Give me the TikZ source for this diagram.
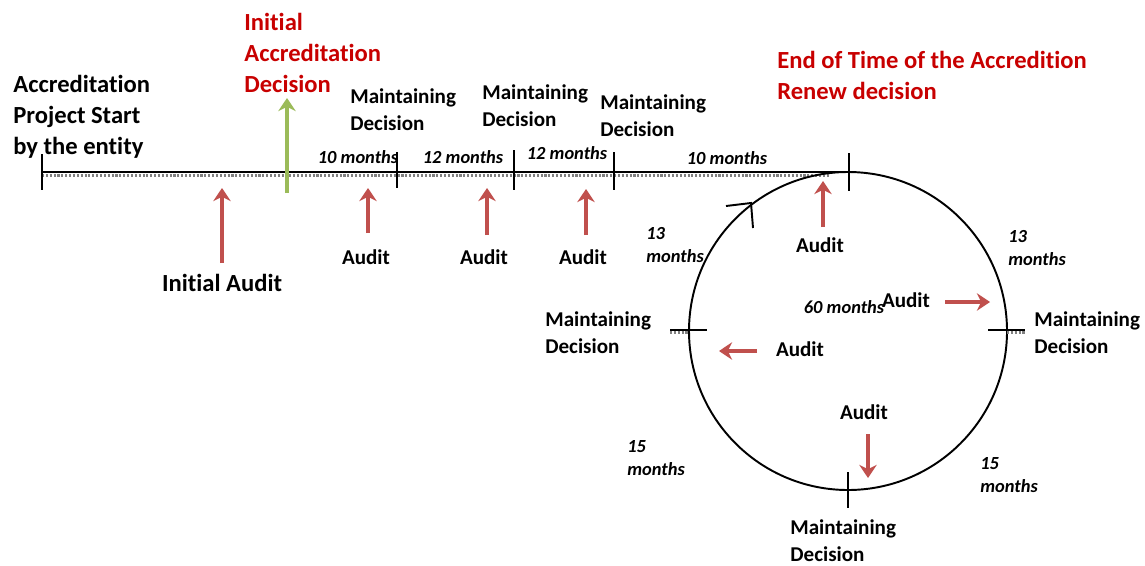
\documentclass[tikz,border=0pt]{standalone}
\usepackage{fontspec}
\setmainfont{Carlito}[Ligatures=NoCommon]
\usetikzlibrary{arrows.meta}
\definecolor{audred}{RGB}{192,80,77}
\definecolor{decgreen}{RGB}{155,187,89}
\definecolor{titlered}{RGB}{200,0,0}

\begin{document}
\begin{tikzpicture}[x=0.02cm,y=-0.02cm,%
        lbl/.style={font=\bfseries\fontsize{12}{15.4}\selectfont,%
                        align=left, inner sep=0pt, anchor=north west},
        tall/.style={lbl, font=\bfseries\fontsize{14}{17.6}\selectfont},
        aud/.style={font=\bfseries\fontsize{12}{15}\selectfont, inner sep=0pt},
        mon/.style={font=\bfseries\itshape\fontsize{10.5}{13}\selectfont,%
                        align=left, inner sep=0pt},
        up/.style={draw=audred, line width=2pt,%
                        -{Stealth[length=7.5pt,width=10pt,inset=2.5pt]}},
        tk/.style={line width=1.3pt},
        ring/.style={line width=1.1pt}]
\useasboundingbox (0,0) rectangle (1145,565);

% timeline
\coordinate (t0) at (42,172);
\coordinate (t1) at (397,172);
\coordinate (t2) at (514,172);
\coordinate (t3) at (614,172);
\coordinate (t4) at (849,172);
\draw[gray, densely dotted, line width=1.2pt] (42,175.5) -- (830,175.5);
\draw[line width=1.6pt] (t0) -- (t4);
\foreach \c/\a/\b in {t0/-18/18, t1/-20/16, t2/-22/18, t3/-20/18, t4/-19/19}
    \draw[tk] (\c) ++(0,\a) -- ++(0,\b-\a);

% cycle
\coordinate (cc) at (848,331);
\draw[ring] (cc) circle[radius=159];
\draw[ring] (726,206) -- (751,203) -- (753,228);
\coordinate (cl) at (689,330);
\coordinate (cr) at (1007,330);
\coordinate (cb) at (848,489);
\draw[gray, densely dotted, line width=1.2pt] (670,332.5) -- (689,332.5);
\draw[gray, densely dotted, line width=1.2pt] (1007,332.5) -- (1025,332.5);
\draw[tk] (cl) ++(-19,0) -- ++(37,0);
\draw[tk] (cr) ++(-19,0) -- ++(37,0);
\draw[tk] (cb) ++(0,-17) -- ++(0,36);

% texts
\node[tall] (start) at (13,75) {Accreditation\\Project Start\\by the entity};
\node[tall, text=titlered] (initdec) at (244,13) {Initial\\Accreditation\\Decision};
\node[tall, text=titlered] (endtxt) at (777,51) {End of Time of the Accredition\\Renew decision};
\node[lbl] (md1) at (350,88) {Maintaining\\Decision};
\node[lbl] (md2) at (482,84) {Maintaining\\Decision};
\node[lbl] (md3) at (600,94) {Maintaining\\Decision};
\node[lbl] (mdl) at (545,311) {Maintaining\\Decision};
\node[lbl] (mdr) at (1034,311) {Maintaining\\Decision};
\node[lbl] (mdb) at (790,519) {Maintaining\\Decision};

\node[mon] (m1) at (358,157) {10 months};
\node[mon] (m2) at (463,157) {12 months};
\node[mon] (m3) at (567,153) {12 months};
\node[mon] (m4) at (727,158) {10 months};
\node[mon] (m60) at (844,307) {60 months};
\node[mon, anchor=north west] (q1) at (646,227) {13\\months};
\node[mon, anchor=north west] (q2) at (1008,230) {13\\months};
\node[mon, anchor=north west] (q3) at (627,440) {15\\months};
\node[mon, anchor=north west] (q4) at (980,457) {15\\months};

\node[aud, font=\bfseries\fontsize{14}{15}\selectfont] (ia) at (222,283) {Initial Audit};
\node[aud] (a1) at (366,257) {Audit};
\node[aud] (a2) at (484,257) {Audit};
\node[aud] (a3) at (583,257) {Audit};
\node[aud] (a4) at (820,245) {Audit};
\node[aud] (a5) at (906,300) {Audit};
\node[aud] (a6) at (800,349) {Audit};
\node[aud] (a7) at (864,412) {Audit};

% arrows
\coordinate (ia-t) at (222,263);  \coordinate (ia-h) at (222,188);
\coordinate (dc-t) at (287,193);  \coordinate (dc-h) at (287,98);
\coordinate (a1-t) at (368,233);  \coordinate (a1-h) at (368,188);
\coordinate (a2-t) at (487,235);  \coordinate (a2-h) at (487,188);
\coordinate (a3-t) at (586,235);  \coordinate (a3-h) at (586,189);
\coordinate (a4-t) at (823,227);  \coordinate (a4-h) at (823,181);
\coordinate (a5-t) at (945,302);  \coordinate (a5-h) at (990,302);
\coordinate (a6-t) at (757,351);  \coordinate (a6-h) at (719,351);
\coordinate (a7-t) at (868,434);  \coordinate (a7-h) at (868,478);
\foreach \n in {ia,a1,a2,a3,a4,a5,a6,a7}
    \draw[up] (\n-t) -- (\n-h);
\draw[up, draw=decgreen] (dc-t) -- (dc-h);
\end{tikzpicture}
\end{document}
